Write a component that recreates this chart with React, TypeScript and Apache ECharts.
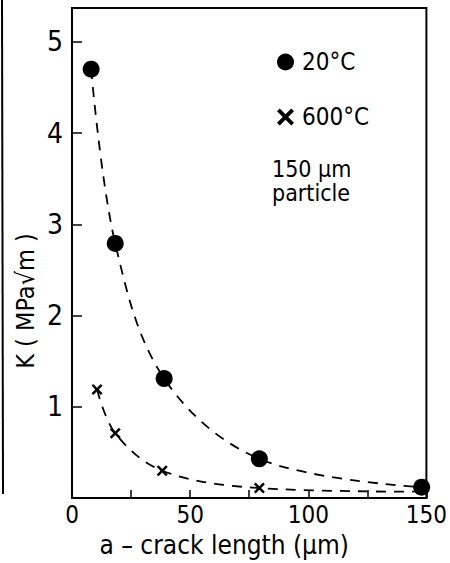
import React, { useEffect, useRef } from "react";
import * as echarts from "echarts";

const xTicks = [0, 25, 50, 75, 100, 125, 150];
const yTicks = [0, 1, 2, 3, 4, 5];

const crackLength20 = [8.1, 18.3, 39, 79.3, 148];
const k20 = [4.7, 2.79, 1.31, 0.43, 0.12];

const crackLength600 = [10.6, 18.3, 38.2, 79.3];
const k600 = [1.19, 0.71, 0.3, 0.11];
const tail600 = [145, 0.07];

const seriesNames = ["20°C", "600°C"];
const noteLines = ["150 µm", "particle"];
const xTitle = "a – crack length (µm)";
const yTitle = "K ( MPa√m )";

const FONT = "'DejaVu Sans Condensed', 'DejaVu Sans', sans-serif";
const CROSS = "path://M0,1.6L1.6,0L5,3.4L8.4,0L10,1.6L6.6,5L10,8.4L8.4,10L5,6.6L1.6,10L0,8.4L3.4,5Z";

export default function App() {
  const ref = useRef<HTMLDivElement>(null);
  useEffect(() => {
    if (!ref.current) return;
    const chart = echarts.init(ref.current, null, { renderer: "svg" });
    const d20 = crackLength20.map((x, i) => [x, k20[i]]);
    const d600: any[] = crackLength600.map((x, i) => [x, k600[i]]);
    d600.push({ value: tail600, symbol: "none" });
    chart.setOption({
      animation: false,
      backgroundColor: "#fff",
      textStyle: { fontFamily: FONT, color: "#000" },
      grid: {
        left: 72,
        top: 8,
        right: 10,
        bottom: 61,
        show: true,
        borderColor: "#000",
        borderWidth: 2,
        backgroundColor: "transparent",
      },
      xAxis: {
        type: "value",
        min: 0,
        max: 150,
        interval: 25,
        name: xTitle,
        nameLocation: "middle",
        nameGap: 22,
        nameTextStyle: { fontSize: 26, fontFamily: FONT, color: "#000", padding: [0, 50, 0, 0] },
        axisLine: { show: true, lineStyle: { color: "#000", width: 2 } },
        axisTick: { show: true, inside: true, length: 8, lineStyle: { color: "#000", width: 1.5 } },
        splitLine: { show: false },
        axisLabel: {
          fontSize: 24,
          fontFamily: FONT,
          color: "#000",
          margin: 5,
          lineHeight: 24,
          formatter: (v: number) => (xTicks.includes(v) && v % 50 === 0 ? String(v) : ""),
          showMaxLabel: true,
          showMinLabel: true,
        },
      },
      yAxis: {
        type: "value",
        min: 0,
        max: 5.37,
        interval: 1,
        axisLine: { show: true, lineStyle: { color: "#000", width: 2 } },
        axisTick: { show: true, inside: true, length: 10, lineStyle: { color: "#000", width: 1.5 } },
        splitLine: { show: false },
        axisLabel: {
          fontSize: 28,
          fontFamily: FONT,
          color: "#000",
          margin: 9,
          showMaxLabel: false,
          formatter: (v: number) => (yTicks.includes(v) && v > 0 ? String(v) : ""),
        },
      },
      legend: {
        orient: "vertical",
        left: 272,
        top: 42,
        itemGap: 25,
        itemWidth: 17,
        itemHeight: 17,
        textStyle: { fontSize: 24, lineHeight: 30, fontFamily: FONT, color: "#000", padding: [0, 0, 0, 3] },
        data: [
          { name: seriesNames[0], icon: "circle" },
          { name: seriesNames[1], icon: CROSS, itemStyle: { color: "#000" } },
        ],
      },
      graphic: [
        {
          type: "text",
          x: 272,
          y: 157,
          style: {
            text: noteLines.join("\n"),
            fontSize: 23,
            lineHeight: 24,
            fontFamily: FONT,
            fill: "#000",
          },
        },
        {
          type: "text",
          x: 25,
          y: 301,
          rotation: Math.PI / 2,
          style: {
            text: yTitle,
            fontSize: 25,
            fontFamily: FONT,
            fill: "#000",
            align: "center",
            verticalAlign: "middle",
          },
        },
        {
          type: "line",
          shape: { x1: 2, y1: 0, x2: 3, y2: 494 },
          style: { stroke: "#000", lineWidth: 2 },
        },
      ],
      series: [
        {
          name: seriesNames[0],
          type: "line",
          data: d20,
          smooth: 0.35,
          symbol: "circle",
          symbolSize: 17,
          itemStyle: { color: "#000" },
          lineStyle: { color: "#000", width: 1.8, type: [10, 8] },
          clip: false,
        },
        {
          name: seriesNames[1],
          type: "line",
          data: d600,
          smooth: 0.35,
          symbol: CROSS,
          symbolSize: 11,
          itemStyle: { color: "#000" },
          lineStyle: { color: "#000", width: 1.8, type: [10, 8] },
          clip: false,
        },
      ],
    });
    return () => chart.dispose();
  }, []);
  return <div ref={ref} style={{ width: 450, height: 563, position: "absolute", left: 0, top: 0 }} />;
}
